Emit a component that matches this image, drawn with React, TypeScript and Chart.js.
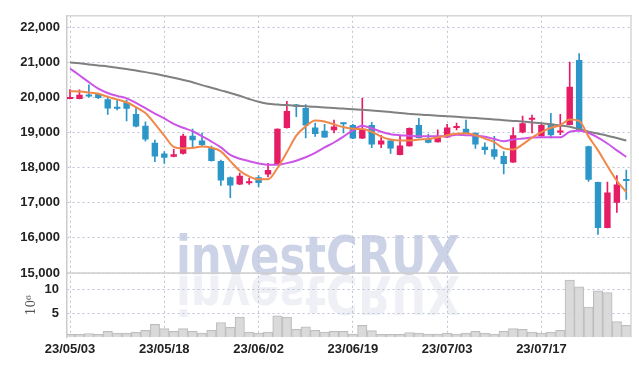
import React, { useEffect, useRef } from 'react';
import { Chart, registerables } from 'chart.js';
Chart.register(...registerables);

const dates = [
  '23/05/03','23/05/04','23/05/08','23/05/09','23/05/10','23/05/11','23/05/12','23/05/15','23/05/16','23/05/17',
  '23/05/18','23/05/19','23/05/22','23/05/23','23/05/24','23/05/25','23/05/26','23/05/30','23/05/31','23/06/01',
  '23/06/02','23/06/05','23/06/07','23/06/08','23/06/09','23/06/12','23/06/13','23/06/14','23/06/15','23/06/16',
  '23/06/19','23/06/20','23/06/21','23/06/22','23/06/23','23/06/26','23/06/27','23/06/28','23/06/29','23/06/30',
  '23/07/03','23/07/04','23/07/05','23/07/06','23/07/07','23/07/10','23/07/11','23/07/12','23/07/13','23/07/14',
  '23/07/17','23/07/18','23/07/19','23/07/20','23/07/21','23/07/24','23/07/25','23/07/26','23/07/27','23/07/28',
];

const opens = [
  19960, 19960, 20060, 20110, 19950, 19725, 19865, 19530, 19195, 18710,
  18405, 18310, 18395, 18915, 18775, 18570, 18195, 17730, 17525, 17555,
  17730, 17805, 18105, 19130, 19800, 19705, 19145, 19055, 19065, 19280,
  19220, 18830, 19220, 18665, 18775, 18365, 18615, 19220, 18830, 18725,
  18865, 19130, 19110, 18990, 18600, 18525, 18335, 18150, 19005, 19370,
  18895, 19250, 19005, 19220, 21070, 18615, 17590, 16285, 17005, 17640,
];
const highs = [
  20230, 20220, 20360, 20125, 20040, 19930, 19930, 19715, 19305, 18785,
  18460, 18525, 18960, 19100, 18990, 18615, 18215, 17740, 17845, 17705,
  17775, 18125, 19110, 19895, 19810, 19800, 19270, 19240, 19360, 19280,
  19235, 19985, 19295, 18925, 18775, 18925, 19140, 19410, 18960, 19080,
  19240, 19270, 19360, 19000, 18710, 18895, 18460, 19145, 19475, 19500,
  19270, 19550, 19520, 21010, 21255, 18615, 17590, 17590, 17775, 17935,
];
const lows = [
  19960, 19960, 20010, 19970, 19520, 19650, 19335, 19160, 18755, 18170,
  18125, 18305, 18385, 18595, 18620, 18190, 17495, 17145, 17520, 17525,
  17450, 17740, 18100, 19125, 19455, 18850, 18895, 18865, 18990, 18990,
  18830, 18830, 18570, 18570, 18405, 18365, 18615, 18850, 18710, 18725,
  18865, 19080, 18990, 18550, 18385, 18245, 17825, 18150, 18990, 18990,
  18895, 18850, 18940, 19220, 19055, 17610, 16100, 16285, 16725, 17095,
];
const closes = [
  20000, 20080, 20030, 19985, 19690, 19680, 19680, 19175, 18805, 18320,
  18285, 18385, 18915, 18785, 18645, 18195, 17635, 17495, 17775, 17580,
  17565, 17935, 19110, 19615, 19735, 19205, 18960, 18865, 19175, 19240,
  18830, 19110, 18665, 18775, 18550, 18635, 19130, 18850, 18710, 18850,
  19145, 19160, 18990, 18665, 18505, 18310, 18105, 18925, 19270, 19425,
  19220, 18925, 19025, 20310, 19055, 17655, 16285, 17295, 17525, 17625,
];
// volume in millions of shares
const volumes = [
  0.6, 0.6, 0.8, 0.6, 1.27, 0.87, 0.87, 1.07, 1.47, 2.68,
  1.8, 1.27, 1.8, 1.27, 0.87, 1.47, 3.08, 2.07, 4.23, 1.07,
  0.87, 1.07, 4.5, 4.23, 1.67, 2.2, 1.47, 1.1, 1.27, 1.27,
  0.67, 2.48, 1.4, 0.6, 0.6, 0.6, 1.0, 0.87, 0.67, 0.67,
  0.87, 0.67, 0.87, 1.27, 0.87, 0.67, 1.27, 1.8, 1.67, 1.07,
  0.87, 1.07, 1.47, 11.9, 10.5, 6.3, 9.67, 9.33, 3.28, 2.48,
];
const maShort = [
  20181, 20173, 20145, 20108, 20019, 19949, 19865, 19725, 19558, 19250,
  18914, 18593, 18551, 18565, 18607, 18571, 18467, 18188, 17916, 17754,
  17670, 17670, 17992, 18439, 18914, 19180, 19348, 19320, 19236, 19158,
  19110, 19102, 19026, 18886, 18803, 18775, 18775, 18803, 18817, 18859,
  18928, 18970, 18984, 18928, 18831, 18733, 18551, 18523, 18663, 18859,
  19012, 19138, 19208, 19376, 19334, 18886, 18495, 18048, 17628, 17306,
];
const maMid = [
  20830, 20634, 20438, 20256, 20131, 20047, 19977, 19851, 19697, 19544,
  19404, 19250, 19138, 19040, 18895, 18747, 18579, 18364, 18257, 18187,
  18123, 18084, 18084, 18131, 18201, 18299, 18425, 18579, 18719, 18886,
  19068, 19194, 19124, 19026, 18956, 18928, 18914, 18895, 18895, 18895,
  18900, 18942, 18928, 18914, 18886, 18817, 18755, 18803, 18831, 18859,
  18867, 18867, 18867, 19026, 19054, 18990, 18859, 18691, 18495, 18308,
];
const maLong = [
  21000, 20975, 20945, 20915, 20886, 20850, 20816, 20770, 20725, 20676,
  20620, 20565, 20500, 20438, 20354, 20280, 20205, 20131, 20050, 19960,
  19879, 19823, 19800, 19785, 19767, 19750, 19735, 19720, 19700, 19685,
  19669, 19650, 19630, 19610, 19585, 19557, 19535, 19515, 19500, 19485,
  19465, 19450, 19432, 19415, 19395, 19376, 19355, 19335, 19315, 19292,
  19270, 19240, 19205, 19166, 19100, 19026, 18970, 18914, 18845, 18775,
];
const priceTicks = [15000, 16000, 17000, 18000, 19000, 20000, 21000, 22000];
const volumeTicks = [5, 10];
const dateTickIndexes = [0, 10, 20, 30, 40, 50];

export default function App() {
  const ref = useRef<HTMLCanvasElement>(null);
  useEffect(() => {
    if (!ref.current) return;
    const idx = dates.map((_, i) => i);
    const RED = '#e61c64';
    const BLUE = '#2d96c8';
    const colors = idx.map(i => (closes[i] >= opens[i] ? RED : BLUE));
    const FONT = "'Liberation Sans', Arial, sans-serif";
    const GRID = '#bcc3d6';
    const tickFont = { family: FONT, size: 13, weight: 'bold' as const };

    const deco = {
      id: 'deco',
      beforeDraw(chart: any) {
        const { ctx } = chart;
        ctx.save();
        ctx.font = "bold 54px 'DejaVu Sans', sans-serif";
        const text = 'investCRUX';
        const w = ctx.measureText(text).width;
        const sx = 284 / w;
        ctx.translate(176, 274);
        ctx.scale(sx, 1);
        ctx.textBaseline = 'alphabetic';
        ctx.fillStyle = 'rgba(192,200,224,0.8)';
        ctx.fillText(text, 0, 0);
        ctx.scale(1, -1);
        ctx.fillStyle = 'rgba(205,211,230,0.35)';
        ctx.fillText(text, 0, -2);
        ctx.restore();
      },
      afterDraw(chart: any) {
        const { ctx, chartArea } = chart;
        const ys = chart.scales.y;
        ctx.save();
        ctx.strokeStyle = '#d6d6d6';
        ctx.lineWidth = 1.5;
        ctx.beginPath();
        ctx.moveTo(chartArea.left, chartArea.top);
        ctx.lineTo(chartArea.right, chartArea.top);
        ctx.lineTo(chartArea.right, chartArea.bottom);
        ctx.stroke();
        ctx.strokeStyle = '#cfcfcf';
        ctx.beginPath();
        ctx.moveTo(chartArea.left, ys.bottom);
        ctx.lineTo(chartArea.right, ys.bottom);
        ctx.stroke();
        ctx.restore();
      },
    };

    const chart = new Chart(ref.current, {
      type: 'bar',
      data: {
        datasets: [
          {
            type: 'line', label: 'MA short', data: idx.map(i => ({ x: i, y: maShort[i] })),
            borderColor: '#f0884a', borderWidth: 2, pointRadius: 0, cubicInterpolationMode: 'monotone',
            yAxisID: 'y', order: 0,
          } as any,
          {
            type: 'line', label: 'MA mid', data: idx.map(i => ({ x: i, y: maMid[i] })),
            borderColor: '#cc55e6', borderWidth: 2, pointRadius: 0, cubicInterpolationMode: 'monotone',
            yAxisID: 'y', order: 0,
          } as any,
          {
            type: 'line', label: 'MA long', data: idx.map(i => ({ x: i, y: maLong[i] })),
            borderColor: '#808080', borderWidth: 2, pointRadius: 0, cubicInterpolationMode: 'monotone',
            yAxisID: 'y', order: 0,
          } as any,
          {
            type: 'bar', label: 'body', data: idx.map(i => ({ x: i, y: [opens[i], closes[i]] })),
            backgroundColor: colors, barPercentage: 0.68, categoryPercentage: 1, grouped: false,
            minBarLength: 2, yAxisID: 'y', order: 1,
          } as any,
          {
            type: 'bar', label: 'wick', data: idx.map(i => ({ x: i, y: [lows[i], highs[i]] })),
            backgroundColor: colors, barThickness: 1, grouped: false, yAxisID: 'y', order: 2,
          } as any,
          {
            type: 'bar', label: 'volume', data: idx.map(i => ({ x: i, y: volumes[i] })),
            backgroundColor: 'rgba(214,214,214,0.9)', borderColor: '#bdbdbd', borderWidth: 1,
            borderSkipped: 'bottom', barPercentage: 1, categoryPercentage: 1, grouped: false,
            yAxisID: 'yv', order: 3,
          } as any,
        ],
      },
      options: {
        animation: false,
        responsive: true,
        maintainAspectRatio: false,
        layout: { padding: { top: 9, right: 8, left: 0, bottom: 0 } },
        plugins: { legend: { display: false }, tooltip: { enabled: false } },
        scales: {
          x: {
            type: 'linear', position: 'bottom', min: -0.32, max: 59.5, offset: false,
            afterBuildTicks: (s: any) => { s.ticks = dateTickIndexes.map(v => ({ value: v })); },
            afterFit: (s: any) => { s.height = 28.7; },
            ticks: {
              callback: (v: any) => dates[v as number] ?? '', font: tickFont, color: '#222',
              padding: 4, maxRotation: 0, autoSkip: false,
            },
            grid: { color: GRID, drawTicks: false, lineWidth: 1, offset: false },
            border: { display: false, dash: [2, 3] },
          },
          y: {
            type: 'linear', position: 'left', stack: 'panels', stackWeight: 4, weight: 2,
            min: 15000, max: 22330,
            afterBuildTicks: (s: any) => { s.ticks = priceTicks.map(v => ({ value: v })); },
            afterFit: (s: any) => { s.width = 67; },
            ticks: {
              callback: (v: any) => Number(v).toLocaleString('en-US'), font: tickFont, color: '#222', padding: 7,
            },
            grid: { color: GRID, drawTicks: false, lineWidth: 1 },
            border: { display: true, color: '#cccccc', width: 1.5, dash: [2, 3] },
          },
          yv: {
            type: 'linear', position: 'left', stack: 'panels', stackWeight: 1, weight: 1,
            min: 0, max: 13.4,
            afterBuildTicks: (s: any) => { s.ticks = volumeTicks.map(v => ({ value: v })); },
            afterFit: (s: any) => { s.width = 67; },
            ticks: { font: tickFont, color: '#222', padding: 8 },
            title: {
              display: true, text: '10⁶', color: '#555',
              font: { family: "'DejaVu Serif', serif", size: 12 }, padding: { top: 25, bottom: 0 },
            },
            grid: { color: GRID, drawTicks: false, lineWidth: 1 },
            border: { display: true, color: '#cccccc', width: 1.5, dash: [2, 3] },
          },
        },
      } as any,
      plugins: [deco],
    });
    return () => chart.destroy();
  }, []);
  return (
    <div style={{ position: 'absolute', left: 0, top: 0, width: 639, height: 366, background: '#fff' }}>
      <canvas ref={ref} />
    </div>
  );
}
